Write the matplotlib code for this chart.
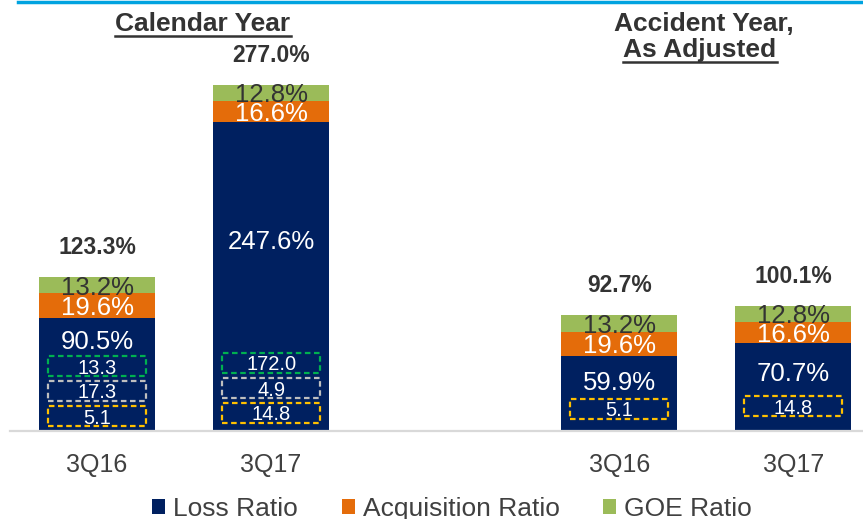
import matplotlib
matplotlib.use("Agg")
import matplotlib.pyplot as plt
from matplotlib.patches import Rectangle
from matplotlib.lines import Line2D

plt.rcParams['font.family'] = ['Liberation Sans', 'DejaVu Sans']

# ---- data ----
categories = ["3Q16", "3Q17", "3Q16", "3Q17"]
loss_ratio = [90.5, 247.6, 59.9, 70.7]
acquisition_ratio = [19.6, 16.6, 19.6, 16.6]
goe_ratio = [13.2, 12.8, 13.2, 12.8]
totals = [123.3, 277.0, 92.7, 100.1]
# boxed annotations inside loss bars (bottom to top)
box_yellow = [5.1, 14.8, 5.1, 14.8]
box_gray = [17.3, 4.9, None, None]
box_green = [13.3, 172.0, None, None]
series_names = ["Loss Ratio", "Acquisition Ratio", "GOE Ratio"]
group_titles = ["Calendar Year", "Accident Year,\nAs Adjusted"]

# ---- style ----
NAVY = "#002060"
ORANGE = "#E46C0A"
GREEN = "#9BBB59"
DARK = "#333333"
TICK = "#404040"

W, H = 863, 519
fig = plt.figure(figsize=(W / 100, H / 100), dpi=100)
base_px = 431
ax = fig.add_axes([10 / W, (H - base_px) / H, 1 - 10 / W, base_px / H])

x = [0, 1, 3, 4]
bw = 0.667
ax.set_xlim(-0.5, 4.40)
ax.set_ylim(0, base_px / 1.25)

b1 = ax.bar(x, loss_ratio, bw, color=NAVY, label=series_names[0], zorder=2)
b2 = ax.bar(x, acquisition_ratio, bw, bottom=loss_ratio, color=ORANGE,
            label=series_names[1], zorder=2)
bot3 = [l + a for l, a in zip(loss_ratio, acquisition_ratio)]
b3 = ax.bar(x, goe_ratio, bw, bottom=bot3, color=GREEN, label=series_names[2], zorder=2)

# segment labels
for xi, l, a, g, b in zip(x, loss_ratio, acquisition_ratio, goe_ratio, bot3):
    ax.text(xi, l + a / 2, f"{a:.1f}%", ha='center', va='center_baseline',
            color='white', fontsize=18.5, zorder=4)
    ax.text(xi, b + g / 2, f"{g:.1f}%", ha='center', va='center_baseline',
            color=DARK, fontsize=18.5, zorder=4)

# dashed boxes
box_base = [4, 6.4, 9.6, 12]
box_h = 16
box_step = 20
box_w = 0.563
box_colors = ["#FFC000", "#BFBFBF", "#00B050"]
for i, xi in enumerate(x):
    vals = [box_yellow[i], box_gray[i], box_green[i]]
    top = box_base[i]
    k = 0
    for v, c in zip(vals, box_colors):
        if v is None:
            continue
        y0 = box_base[i] + k * box_step
        ax.add_patch(Rectangle((xi - box_w / 2, y0), box_w, box_h, fill=False,
                               edgecolor=c, linewidth=1.6, linestyle=(0, (2.5, 1.6)), zorder=3))
        ax.text(xi, y0 + box_h / 2, f"{v:.1f}", ha='center', va='center_baseline',
                color='white', fontsize=14.5, zorder=4)
        top = y0 + box_h
        k += 1
    # loss label between loss top and box stack
    ymid = (loss_ratio[i] + top) / 2 - 2
    ax.text(xi, ymid, f"{loss_ratio[i]:.1f}%", ha='center', va='center_baseline',
            color='white', fontsize=18.5, zorder=4)

# totals
for xi, t in zip(x, totals):
    ax.annotate(f"{t:.1f}%", (xi, t), xytext=(0, 23), textcoords='offset points',
                ha='center', va='center_baseline', fontsize=16.5, fontweight='bold',
                color=DARK)

ax.set_xticks(x)
ax.set_xticklabels(categories, fontsize=18, color=TICK)
ax.tick_params(axis='x', length=0, pad=16)
ax.set_yticks([])
for s in ['top', 'left', 'right']:
    ax.spines[s].set_visible(False)
ax.spines['bottom'].set_color("#D9D9D9")
ax.spines['bottom'].set_linewidth(1.6)
ax.set_facecolor('none')

# top blue rule
fig.add_artist(Line2D([18 / W, 1], [1 - 1.5 / H, 1 - 1.5 / H], color="#00A3E0",
                      linewidth=2.5, transform=fig.transFigure))

# group titles with underline
fig.canvas.draw()
rend = fig.canvas.get_renderer()

def underlined(xc, ybase_px, text, underline=True):
    t = fig.text(xc / W, 1 - ybase_px / H, text, ha='center', va='baseline',
                 fontsize=19, fontweight='bold', color=DARK)
    if underline:
        bb = t.get_window_extent(renderer=rend)
        yl = 1 - (ybase_px + 4.5) / H
        fig.add_artist(Line2D([bb.x0 / W, bb.x1 / W], [yl, yl], color=DARK,
                              linewidth=1.8, transform=fig.transFigure))
    return t

underlined(203, 31, group_titles[0])
l1, l2 = group_titles[1].split("\n")
underlined(704, 31, l1, underline=False)
underlined(700, 57, l2)

fig.legend(handles=[b1, b2, b3], labels=series_names, loc='center',
           bbox_to_anchor=(452 / W, 1 - 509 / H), ncol=3, frameon=False,
           fontsize=19, handlelength=0.5, handleheight=0.5, handletextpad=0.3,
           columnspacing=1.65, labelcolor=TICK, borderpad=0)

fig.savefig("out.png", dpi=100)
